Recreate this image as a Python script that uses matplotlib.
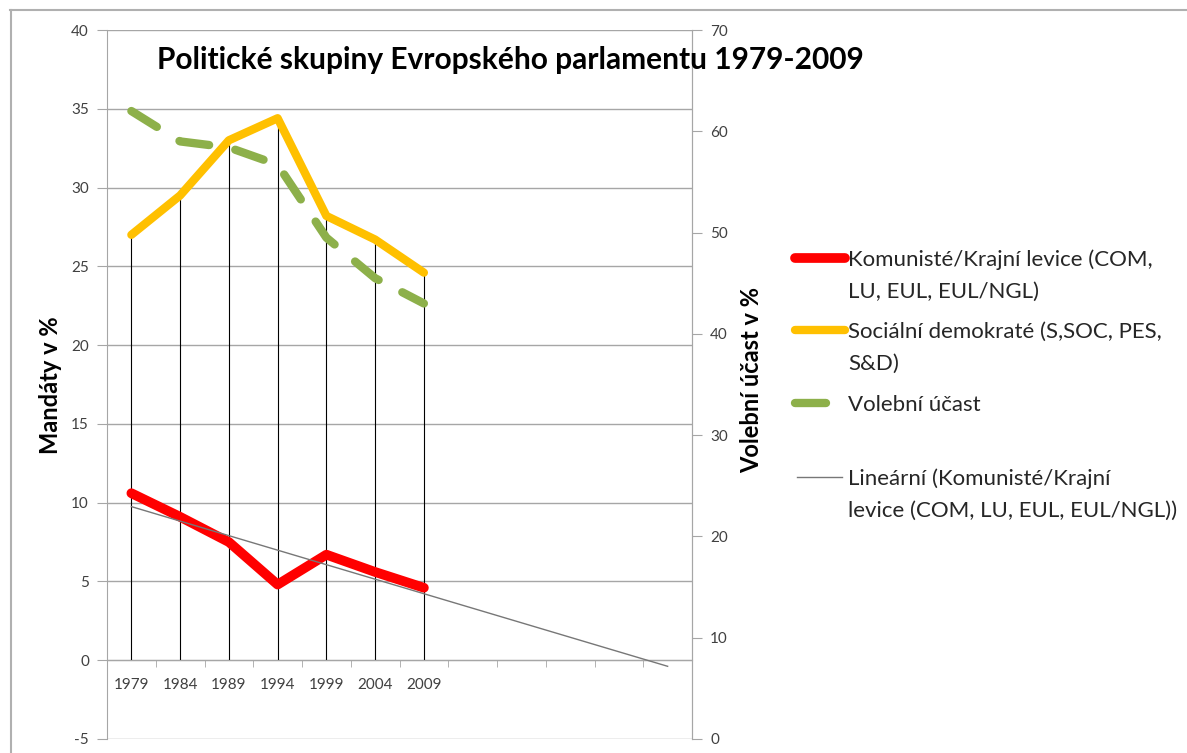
import numpy as np
import matplotlib
matplotlib.use('Agg')
import matplotlib.pyplot as plt
from matplotlib.lines import Line2D

plt.rcParams['font.family'] = ['Lato', 'DejaVu Sans']
plt.rcParams['axes.unicode_minus'] = False

# Data
years = ['1979', '1984', '1989', '1994', '1999', '2004', '2009']
komuniste = [10.6, 9.1, 7.5, 4.8, 6.7, 5.6, 4.6]
socdem = [27.0, 29.5, 33.0, 34.4, 28.2, 26.7, 24.6]
ucast = [62.0, 59.0, 58.4, 56.7, 49.5, 45.5, 43.0]
n_categories = 12   # axis keeps empty slots for the trendline forecast

label_kom = 'Komunisté/Krajní levice (COM,\nLU, EUL, EUL/NGL)'
label_soc = 'Sociální demokraté (S,SOC, PES,\nS&D)'
label_uc = 'Volební účast'
label_trend = 'Lineární (Komunisté/Krajní\nlevice (COM, LU, EUL, EUL/NGL))'

red = '#ff0000'
orange = '#ffc000'
green = '#8db04a'
trend_col = '#777777'
grey = '#a6a6a6'
txt = '#404040'

fig = plt.figure(figsize=(11.87, 7.53), dpi=100)
ax = fig.add_axes([107/1187, 1-739/753, (692-107)/1187, (739-30)/753])
ax2 = ax.twinx()

x = np.arange(len(years))

# drop lines from the top series to the category axis
ax.vlines(x, 0, socdem, color='black', lw=0.8, zorder=2)

ax.plot(x, komuniste, color=red, lw=7, solid_capstyle='round',
        solid_joinstyle='round', zorder=3)
ax.plot(x, socdem, color=orange, lw=6, solid_capstyle='round',
        solid_joinstyle='round', zorder=3)

# linear trend for the communist group, extended over all slots
k, q = np.polyfit(x, komuniste, 1)
xt = np.arange(n_categories)
ax.plot(xt, k*xt + q, color=trend_col, lw=1, zorder=4)

ax2.plot(x, ucast, color=green, lw=6, linestyle=(0, (3.6, 3.2)),
         dash_capstyle='round', zorder=3)

# left axis
ax.set_xlim(-0.5, n_categories - 0.5)
ax.set_ylim(-5, 40)
ax.set_yticks(np.arange(-5, 41, 5))
ax.yaxis.grid(True, color=grey, lw=1)
ax.set_axisbelow(True)
ax.tick_params(axis='y', direction='out', length=7, color=grey,
               labelcolor=txt, labelsize=11, pad=6)

ax.spines['bottom'].set_position(('data', 0))
ax.set_xticks(x)
ax.set_xticklabels(years)
ax.set_xticks(np.arange(0.5, n_categories - 1), minor=True)
ax.tick_params(axis='x', which='major', length=0, pad=13,
               labelcolor=txt, labelsize=11)
ax.tick_params(axis='x', which='minor', direction='out', length=5, color=grey)

for s in ['left', 'bottom', 'right', 'top']:
    ax.spines[s].set_color(grey)
ax.spines['top'].set_visible(False)

# right axis
ax2.set_ylim(0, 70)
ax2.set_yticks(np.arange(0, 71, 10))
ax2.tick_params(axis='y', direction='out', length=7, color=grey,
                labelcolor=txt, labelsize=11, pad=6)
for s in ['left', 'bottom', 'top']:
    ax2.spines[s].set_visible(False)
ax2.spines['right'].set_color(grey)

# texts
fig.text(510/1187, 1-60/753, 'Politické skupiny Evropského parlamentu 1979-2009',
         ha='center', va='center', fontsize=21.5, fontweight='bold', color='black')
fig.text(50/1187, 1-385/753, 'Mandáty v %', rotation=90, ha='center', va='center',
         fontsize=17, fontweight='bold')
fig.text(752/1187, 1-380/753, 'Volební účast v %', rotation=90, ha='center',
         va='center', fontsize=17, fontweight='bold')

# legend, drawn by hand so the key sits next to the first text line
legend_items = [
    (label_kom, dict(color=red, lw=7, solid_capstyle='round'), 258, 795, 845),
    (label_soc, dict(color=orange, lw=6, solid_capstyle='round'), 330, 795, 845),
    (label_uc, dict(color=green, lw=6, solid_capstyle='round'), 403, 795, 826),
    (label_trend, dict(color=trend_col, lw=1), 477, 797, 842),
]
for label, style, ypix, x0, x1 in legend_items:
    fig.add_artist(Line2D([x0/1187, x1/1187], [1-ypix/753, 1-ypix/753], **style))
    for i, line in enumerate(label.split('\n')):
        fig.text(848/1187, 1-(ypix + 32*i)/753, line, ha='left',
                 va='center_baseline', fontsize=16, color='#262626')

# outer chart border
fig.add_artist(Line2D([10/1187, 1], [1-10/753, 1-10/753], color='#b0b0b0', lw=1.5))
fig.add_artist(Line2D([11/1187, 11/1187], [0, 1-10/753], color='#b0b0b0', lw=1.5))

fig.savefig('out.png', dpi=100)
